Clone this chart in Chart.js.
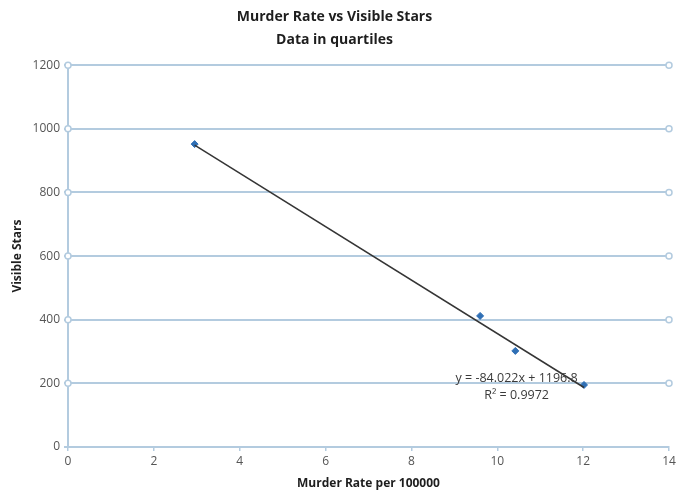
<!DOCTYPE html>
<html>
<head>
<meta charset="utf-8">
<script src="https://cdn.jsdelivr.net/npm/chart.js@4/dist/chart.umd.min.js"></script>
<style>
  html, body { margin: 0; padding: 0; background: #ffffff; }
  #wrap { width: 680px; height: 491px; }
</style>
</head>
<body>
<div id="wrap"><canvas id="c" width="680" height="491"></canvas></div>
<script>
// Data
const murderRate = [2.95, 9.6, 10.42, 12.02];
const visibleStars = [952, 412, 302, 195];
// Trend line endpoints (Excel linear trendline, y = -84.022x + 1196.8)
const trendX = [2.95, 12.02];
const trendY = [949, 187];
const equationLines = ['y = -84.022x + 1196.8', 'R² = 0.9972'];
const equationAnchor = { x: 10.45, y: [214, 161] };
const titleLines = ['Murder Rate vs Visible Stars', 'Data in quartiles'];
const xTitle = 'Murder Rate per 100000';
const yTitle = 'Visible Stars';

const GRID = '#b3cbdf';
const FONT = "'Open Sans', 'Liberation Sans', sans-serif";

const gridEnds = {
  id: 'gridEnds',
  beforeDatasetsDraw(chart) {
    const ctx = chart.ctx;
    const y = chart.scales.y;
    const a = chart.chartArea;
    ctx.save();
    ctx.lineWidth = 1.5;
    ctx.strokeStyle = GRID;
    ctx.fillStyle = '#ffffff';
    y.ticks.forEach(t => {
      if (t.value <= 0) return;
      const py = y.getPixelForValue(t.value);
      [a.left, a.right].forEach(px => {
        ctx.beginPath();
        ctx.arc(px, py, 3, 0, Math.PI * 2);
        ctx.fill();
        ctx.stroke();
      });
    });
    ctx.restore();
  },
  afterDraw(chart) {
    const ctx = chart.ctx;
    const xs = chart.scales.x, ys = chart.scales.y;
    ctx.save();
    ctx.font = "12.5px " + FONT;
    ctx.fillStyle = '#3a3a3a';
    ctx.textAlign = 'center';
    ctx.textBaseline = 'middle';
    const px = xs.getPixelForValue(equationAnchor.x);
    equationLines.forEach((s, i) => {
      ctx.fillText(s, px, ys.getPixelForValue(equationAnchor.y[i]));
    });
    ctx.restore();
  }
};

new Chart(document.getElementById('c'), {
  type: 'scatter',
  data: {
    datasets: [
      {
        type: 'line',
        label: 'Trend',
        data: trendX.map((x, i) => ({ x, y: trendY[i] })),
        borderColor: '#353535',
        borderWidth: 1.5,
        pointRadius: 0,
        fill: false,
        order: 0
      },
      {
        label: 'Visible Stars',
        data: murderRate.map((x, i) => ({ x, y: visibleStars[i] })),
        backgroundColor: '#2f6fb5',
        borderColor: '#2f6fb5',
        pointStyle: 'rectRot',
        pointRadius: 3.5,
        order: 1
      }
    ]
  },
  options: {
    responsive: false,
    animation: false,
    layout: { padding: { left: 0, right: 11, top: 0, bottom: 0 } },
    plugins: {
      legend: { display: false },
      tooltip: { enabled: false },
      title: {
        display: true,
        text: titleLines,
        color: '#1e1e1e',
        font: { family: FONT, size: 14, weight: 'bold', lineHeight: 1.65 },
        padding: { top: 5, bottom: 14 }
      }
    },
    scales: {
      x: {
        type: 'linear',
        min: 0, max: 14,
        ticks: { stepSize: 2, color: '#555555', font: { family: FONT, size: 12 }, padding: 3, callback: v => String(v) },
        grid: { drawOnChartArea: false, drawTicks: true, tickLength: 4, color: GRID, lineWidth: 1.5 },
        border: { color: GRID, width: 2 },
        title: { display: true, text: xTitle, color: '#1e1e1e', font: { family: FONT, size: 12, weight: 'bold' }, padding: { top: 1, bottom: 0 } },
        afterFit(s) { s.height = 44; }
      },
      y: {
        type: 'linear',
        min: 0, max: 1200,
        ticks: { stepSize: 200, color: '#555555', font: { family: FONT, size: 12 }, padding: 4, callback: v => String(v) },
        grid: { color: GRID, lineWidth: 2, drawTicks: true, tickLength: 4 },
        border: { color: GRID, width: 2 },
        title: { display: true, text: yTitle, color: '#1e1e1e', font: { family: FONT, size: 12, weight: 'bold' }, padding: { top: 10, bottom: 0 } },
        afterFit(s) { s.width = 68; }
      }
    }
  },
  plugins: [gridEnds]
});
</script>
</body>
</html>
